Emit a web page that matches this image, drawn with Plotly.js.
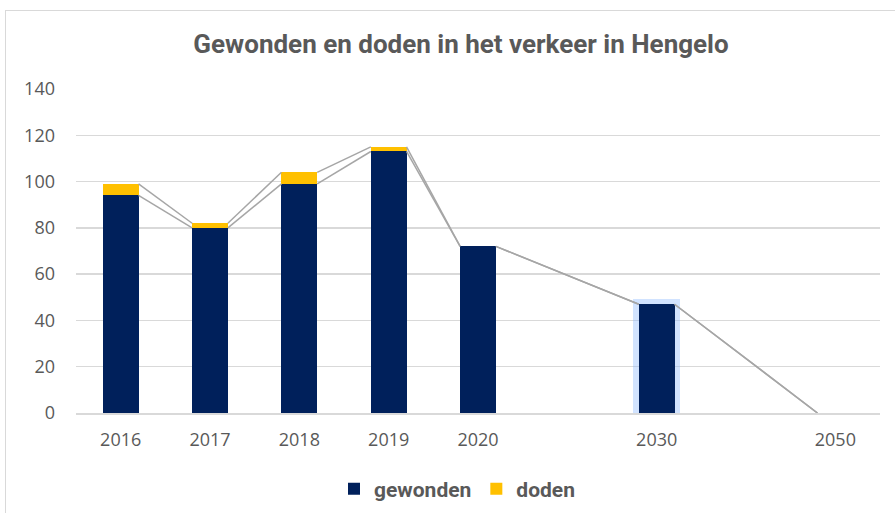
<!DOCTYPE html>
<html>
<head>
<meta charset="utf-8">
<script src="https://cdn.plot.ly/plotly-3.0.1.min.js"></script>
<style>
html,body{margin:0;padding:0;background:#fff;overflow:hidden;}
#chart{width:895px;height:513px;}
#frame{position:absolute;left:5px;top:10px;width:900px;height:520px;border:1.5px solid #d9d9d9;pointer-events:none;}
</style>
</head>
<body>
<div id="chart"></div>
<div id="frame"></div>
<script>
// Data
const categories = ["2016","2017","2018","2019","2020","","2030","","2050"];
const gewonden   = [94, 80, 99, 113, 72, null, 47, null, 0];
const doden      = [5, 2, 5, 2, 0, null, 0, null, 0];
const highlighted = "2030";

const barWidth = 0.4;
const xIdx = categories.map((c, i) => i);

// Series lines (Excel-style) built from data: connect bar top corners of consecutive bars
function seriesLine(tops) {
  const xs = [], ys = [];
  let prev = null;
  for (let i = 0; i < tops.length; i++) {
    if (tops[i] === null) continue;
    if (prev !== null) {
      xs.push(prev + barWidth / 2, i - barWidth / 2, null);
      ys.push(tops[prev], tops[i], null);
    }
    prev = i;
  }
  return {x: xs, y: ys};
}
const totals = gewonden.map((g, i) => g === null ? null : g + (doden[i] || 0));
const l1 = seriesLine(gewonden);
const l2 = seriesLine(totals);
const glowY = gewonden.map((g, i) => categories[i] === highlighted ? g : null);

const lineStyle = {color: '#a6a6a6', width: 1.5};
const traces = [
  // selection glow behind the highlighted bar (bottom subplot layer)
  {
    type: 'bar', x: xIdx, y: glowY, width: barWidth, xaxis: 'x', yaxis: 'y',
    marker: {color: 'rgba(150,190,255,0.5)', line: {color: 'rgba(140,185,255,0.4)', width: 11}},
    showlegend: false, hoverinfo: 'skip'
  },
  {
    type: 'bar', name: 'gewonden', x: xIdx, y: gewonden, width: barWidth, xaxis: 'x2', yaxis: 'y',
    marker: {color: '#00205b'}, hoverinfo: 'y'
  },
  {
    type: 'bar', name: 'doden', x: xIdx, y: doden, width: barWidth, xaxis: 'x2', yaxis: 'y',
    marker: {color: '#ffc000'}, hoverinfo: 'y'
  },
  {type: 'scatter', mode: 'lines', x: l1.x, y: l1.y, xaxis: 'x2', yaxis: 'y', line: lineStyle, showlegend: false, hoverinfo: 'skip'},
  {type: 'scatter', mode: 'lines', x: l2.x, y: l2.y, xaxis: 'x2', yaxis: 'y', line: lineStyle, showlegend: false, hoverinfo: 'skip'}
];

const xRange = [-0.5, categories.length - 0.5];
const layout = {
  width: 895, height: 513,
  barmode: 'stack',
  paper_bgcolor: '#ffffff', plot_bgcolor: '#ffffff',
  margin: {l: 76, r: 15, t: 89, b: 100},
  font: {family: 'Roboto, Arial, sans-serif', color: '#595959'},
  title: {
    text: '<b>Gewonden en doden in het verkeer in Hengelo</b>',
    font: {size: 26, color: '#595959', family: 'Roboto, Arial, sans-serif'},
    x: 461 / 895, xanchor: 'center', xref: 'container',
    y: 1 - 44 / 513, yanchor: 'middle', yref: 'container'
  },
  xaxis: {
    range: xRange,
    tickmode: 'array', tickvals: xIdx, ticktext: categories,
    showgrid: false, zeroline: false,
    showline: true, linecolor: '#d9d9d9', linewidth: 1.5,
    ticks: '', tickfont: {size: 18, color: '#595959', family: '"Open Sans", sans-serif'}, ticklabelstandoff: 10
  },
  xaxis2: {
    range: xRange, overlaying: 'x', anchor: 'y', visible: false,
    showgrid: false, zeroline: false
  },
  yaxis: {
    range: [0, 140], dtick: 20, tick0: 0,
    gridcolor: '#d9d9d9', gridwidth: 1.5, zeroline: false, showline: false,
    ticks: '', tickfont: {size: 18, color: '#595959', family: '"Open Sans", sans-serif'}, ticklabelstandoff: 20
  },
  legend: {
    orientation: 'h', xref: 'container', yref: 'container',
    x: 334 / 895, xanchor: 'left', y: 1 - 489 / 513, yanchor: 'middle',
    font: {size: 21, color: '#595959', weight: 'bold', family: 'Roboto, Arial, sans-serif'},
    itemwidth: 30, traceorder: 'normal'
  },
  showlegend: true
};

Plotly.newPlot('chart', traces, layout, {displayModeBar: false, staticPlot: true});
</script>
</body>
</html>
